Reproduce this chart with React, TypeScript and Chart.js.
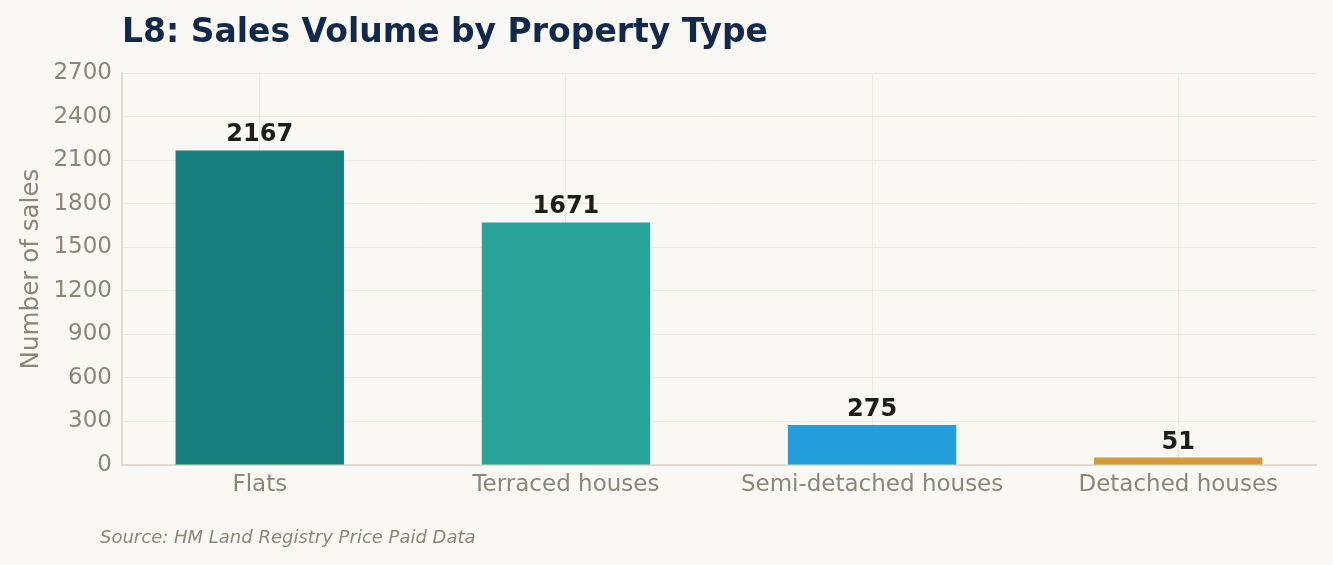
import { useEffect, useRef } from "react"
import { Chart, registerables, Plugin } from "chart.js"

Chart.register(...registerables)

const CATEGORIES = ["Flats", "Terraced houses", "Semi-detached houses", "Detached houses"]
const SALES = [2167, 1671, 275, 51]
const BAR_COLORS = ["#177f7d", "#2aa39a", "#239edb", "#d69a36"]
const Y_MAX = 2700
const Y_STEP = 300

const FONT = "'DejaVu Sans', sans-serif"
const MUTED = "#8b8677"

const overlayPlugin: Plugin<"bar"> = {
  id: "overlay",
  afterDatasetsDraw(chart) {
    const { ctx, chartArea } = chart
    ctx.save()

    // value labels above the bars
    ctx.font = `bold 24px ${FONT}`
    ctx.fillStyle = "#1f1d1a"
    ctx.textAlign = "center"
    ctx.textBaseline = "alphabetic"
    chart.getDatasetMeta(0).data.forEach((bar, i) => {
      ctx.fillText(String(SALES[i]), bar.x, bar.y - 9)
    })

    // title
    ctx.textAlign = "left"
    ctx.font = `bold 33px ${FONT}`
    ctx.fillStyle = "#13294b"
    ctx.fillText("L8: Sales Volume by Property Type", chartArea.left, 42)

    // source note
    ctx.font = `italic 18px ${FONT}`
    ctx.fillStyle = MUTED
    ctx.fillText("Source: HM Land Registry Price Paid Data", 100, 543)
    ctx.restore()
  },
}

export default function App() {
  const canvasRef = useRef<HTMLCanvasElement>(null)

  useEffect(() => {
    if (!canvasRef.current) return

    const chart = new Chart(canvasRef.current, {
      type: "bar",
      data: {
        datasets: [{
          data: SALES.map((y, i) => ({ x: i, y })),
          backgroundColor: BAR_COLORS,
          barPercentage: 0.55,
          categoryPercentage: 1,
        }],
      },
      options: {
        animation: false,
        responsive: true,
        maintainAspectRatio: false,
        layout: { padding: { left: 0, top: 73, right: 17, bottom: 60 } },
        plugins: { legend: { display: false }, tooltip: { enabled: false } },
        scales: {
          x: {
            type: "linear",
            offset: false,
            min: -0.45,
            max: 3.45,
            afterBuildTicks: (axis) => {
              axis.ticks = CATEGORIES.map((_, i) => ({ value: i }))
            },
            afterFit: (axis) => { axis.height = 40 },
            ticks: {
              callback: (v) => CATEGORIES[Number(v)] ?? "",
              font: { family: FONT, size: 23 },
              color: MUTED,
              padding: 6,
              autoSkip: false,
              maxRotation: 0,
            },
            grid: { color: "#eeebe3", drawTicks: false, offset: false },
            border: { color: "#e0dbcc", width: 2 },
          },
          y: {
            min: 0,
            max: Y_MAX,
            afterFit: (axis) => { axis.width = 122 },
            ticks: {
              stepSize: Y_STEP,
              callback: (v) => String(v),
              font: { family: FONT, size: 23 },
              color: MUTED,
              padding: 10,
            },
            grid: { color: "#eeebe3", drawTicks: false },
            border: { color: "#e0dbcc", width: 2 },
            title: {
              display: true,
              text: "Number of sales",
              font: { family: FONT, size: 24.6 },
              color: MUTED,
              padding: { top: 17, bottom: 0 },
            },
          },
        },
      },
      plugins: [overlayPlugin],
    })
    return () => chart.destroy()
  }, [])

  return (
    <div style={{ position: "fixed", left: 0, top: 0, width: 1333, height: 565, background: "#f9f8f4" }}>
      <canvas ref={canvasRef} />
    </div>
  )
}
